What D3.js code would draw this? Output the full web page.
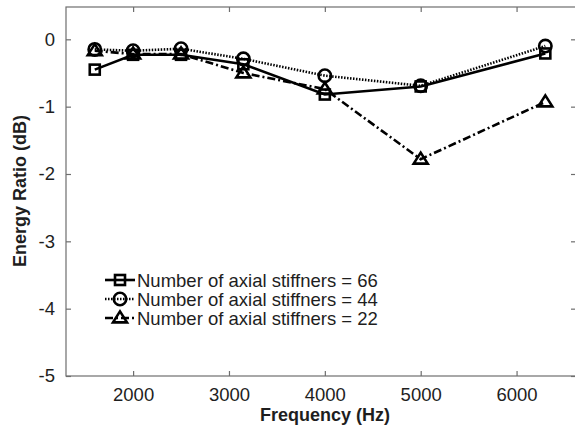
<!DOCTYPE html>
<html>
<head>
<meta charset="utf-8">
<script src="https://cdn.jsdelivr.net/npm/d3@7"></script>
<style>
  html, body { margin: 0; padding: 0; background: #fff; }
  svg { display: block; font-family: "Liberation Sans", Arial, sans-serif; }
</style>
</head>
<body>
<svg id="chart" width="575" height="428"></svg>
<script>
// Frequency bands (Hz)
const frequencies = [1600, 2000, 2500, 3150, 4000, 5000, 6300];

// Energy ratio (dB) for each stiffener count
const stiffeners66 = [-0.45, -0.23, -0.23, -0.37, -0.82, -0.70, -0.21];
const stiffeners44 = [-0.15, -0.17, -0.14, -0.29, -0.54, -0.69, -0.10];
const stiffeners22 = [-0.17, -0.22, -0.22, -0.50, -0.74, -1.78, -0.93];

const seriesLabels = [
  "Number of axial stiffners = 66",
  "Number of axial stiffners = 44",
  "Number of axial stiffners = 22"
];

const xTicks = [2000, 3000, 4000, 5000, 6000];
const yTicks = [0, -1, -2, -3, -4, -5];

const svg = d3.select("#chart");
const plotLeft = 66, plotRight = 576, plotTop = 7, plotBottom = 376;

const x = d3.scaleLinear().domain([1300, 6620]).range([plotLeft, plotRight]);
const y = d3.scaleLinear().domain([-5, 0.48]).range([plotBottom, plotTop]);

const frameColor = "#6e6e6e";
const textColor = "#1e1e1e";

// Box frame
svg.append("rect")
  .attr("x", plotLeft).attr("y", plotTop)
  .attr("width", plotRight - plotLeft).attr("height", plotBottom - plotTop)
  .attr("fill", "none").attr("stroke", frameColor).attr("stroke-width", 1.2);

// Axes with inward ticks
const xAxis = svg.append("g").attr("transform", `translate(0,${plotBottom})`)
  .call(d3.axisBottom(x).tickValues(xTicks).tickSizeInner(-5).tickSizeOuter(0).tickPadding(12)
    .tickFormat(d3.format("d")));
const xAxisTop = svg.append("g").attr("transform", `translate(0,${plotTop})`)
  .call(d3.axisTop(x).tickValues(xTicks).tickSizeInner(-5).tickSizeOuter(0).tickFormat(""));
const yAxis = svg.append("g").attr("transform", `translate(${plotLeft},0)`)
  .call(d3.axisLeft(y).tickValues(yTicks).tickSizeInner(-5).tickSizeOuter(0).tickPadding(11)
    .tickFormat(d => d === 0 ? "0" : String(d)));
const yAxisRight = svg.append("g").attr("transform", `translate(${plotRight},0)`)
  .call(d3.axisRight(y).tickValues(yTicks).tickSizeInner(-5).tickSizeOuter(0).tickFormat(""));

[xAxis, xAxisTop, yAxis, yAxisRight].forEach(g => {
  g.select(".domain").remove();
  g.selectAll(".tick line").attr("stroke", frameColor).attr("stroke-width", 1.2);
  g.selectAll(".tick text").attr("fill", textColor).attr("font-size", 18.5)
    .attr("font-family", "'Liberation Sans', Arial, sans-serif");
});

// Axis titles
svg.append("text")
  .attr("x", 325).attr("y", 421)
  .attr("text-anchor", "middle").attr("font-size", 18).attr("font-weight", "bold")
  .attr("fill", textColor).text("Frequency (Hz)");
svg.append("text")
  .attr("transform", `translate(26,191) rotate(-90)`)
  .attr("text-anchor", "middle").attr("font-size", 18).attr("font-weight", "bold")
  .attr("fill", textColor).text("Energy Ratio (dB)");

// Series styling
const series = [
  { values: stiffeners66, dash: null, marker: "square" },
  { values: stiffeners44, dash: "1.5,1.5", marker: "circle" },
  { values: stiffeners22, dash: "8,3,2,3", marker: "triangle" }
];

function drawMarker(g, type, cx, cy) {
  const common = s => s.attr("fill", "none").attr("stroke", "#000").attr("stroke-width", 2.6);
  if (type === "square") {
    common(g.append("rect").attr("x", cx - 5).attr("y", cy - 5).attr("width", 10).attr("height", 10));
  } else if (type === "circle") {
    common(g.append("circle").attr("cx", cx).attr("cy", cy).attr("r", 6.2));
  } else {
    const h = 11, w = 14;
    common(g.append("path").attr("d",
      `M${cx},${cy - h * 0.6} L${cx + w / 2},${cy + h * 0.4} L${cx - w / 2},${cy + h * 0.4} Z`));
  }
}

const line = d3.line().x((d, i) => x(frequencies[i])).y(d => y(d));

// Draw back-to-front: 22, 44, 66
series.slice().reverse().forEach(s => {
  const g = svg.append("g");
  g.append("path").attr("d", line(s.values))
    .attr("fill", "none").attr("stroke", "#000").attr("stroke-width", 2.6)
    .attr("stroke-dasharray", s.dash);
  s.values.forEach((v, i) => drawMarker(g, s.marker, x(frequencies[i]), y(v)));
});

// Legend
const legendX = 105, legendY0 = 280, legendDy = 19;
series.forEach((s, i) => {
  const ly = legendY0 + i * legendDy;
  const g = svg.append("g");
  g.append("line").attr("x1", legendX).attr("x2", legendX + 30)
    .attr("y1", ly).attr("y2", ly)
    .attr("stroke", "#000").attr("stroke-width", 2.6).attr("stroke-dasharray", s.dash);
  drawMarker(g, s.marker, legendX + 15, ly);
  g.append("text").attr("x", legendX + 32).attr("y", ly + 6.5)
    .attr("font-size", 18.5).attr("fill", textColor).text(seriesLabels[i]);
});
</script>
</body>
</html>
